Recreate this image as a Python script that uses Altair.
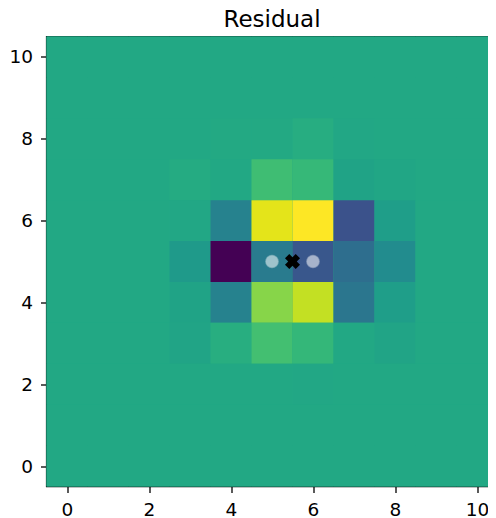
import altair as alt
import pandas as pd

# Residual image values, rows listed from y=10 (top) down to y=0 (bottom), columns x=0..10
row_y = [10, 9, 8, 7, 6, 5, 4, 3, 2, 1, 0]
residual_rows = [
    [0, 0, 0, 0, 0, 0, 0, 0, 0, 0, 0],
    [0, 0, 0, 0, 0, 0, 0, 0, 0, 0, 0],
    [0, 0, 0, 0, 0.5, 0.5, 2, -0.5, 0, 0, 0],
    [0, 0, 0, 1.2, 0, 9, 7, -2, -1, 0, 0],
    [0, 0, 0, -0.5, -16, 36, 40, -35, -4, 0, 0],
    [0, 0, 0, -6, -60, -19, -33, -24, -12, 0, 0],
    [0, 0, 0, -2, -16, 22, 31, -21, -4, 0, 0],
    [0, 0, 0, -1.5, 2.5, 10, 6.5, 0, -1.5, 0, 0],
    [0, 0, 0, 0, 0, 0, -0.5, 0, 0, 0, 0],
    [0, 0, 0, 0, 0, 0, 0, 0, 0, 0, 0],
    [0, 0, 0, 0, 0, 0, 0, 0, 0, 0, 0],
]
col_x = list(range(11))

# overlay markers
source_x = [5, 6]
source_y = [5, 5]
center_x = [5.5]
center_y = [5]

tick_vals = [0, 2, 4, 6, 8, 10]

records = []
for yy, row in zip(row_y, residual_rows):
    for xx, v in zip(col_x, row):
        records.append({"x0": xx - 0.5, "x1": xx + 0.5, "y0": yy - 0.5, "y1": yy + 0.5, "v": v})
df = pd.DataFrame(records)
vmin = float(df["v"].min())
vmax = float(df["v"].max())

# image extent (background layer under the cells so no seams show)
bg = pd.DataFrame({
    "x0": [df["x0"].min()], "x1": [df["x1"].max()],
    "y0": [df["y0"].min()], "y1": [df["y1"].max()],
    "v": [float(df["v"].median())],
})

xs = alt.Scale(domain=[-0.5, 10.5], nice=False, zero=False)
ys = alt.Scale(domain=[-0.5, 10.5], nice=False, zero=False)
cs = alt.Scale(scheme="viridis", domain=[vmin, vmax])

base_enc = dict(
    x=alt.X("x0:Q", scale=xs, axis=alt.Axis(values=tick_vals, title=None)),
    x2="x1:Q",
    y=alt.Y("y0:Q", scale=ys, axis=alt.Axis(values=tick_vals, title=None)),
    y2="y1:Q",
    fill=alt.Fill("v:Q", scale=cs, legend=None),
)

under = alt.Chart(bg).mark_rect(strokeWidth=0).encode(**base_enc)
heat = alt.Chart(df).mark_rect(strokeWidth=0).encode(**base_enc)

pts = alt.Chart(pd.DataFrame({"x": source_x, "y": source_y})).mark_point(
    filled=True, shape="circle", size=150, color="white", opacity=0.55,
    stroke="white", strokeWidth=1.5, strokeOpacity=0.6,
).encode(x=alt.X("x:Q", scale=xs), y=alt.Y("y:Q", scale=ys))

cen = alt.Chart(pd.DataFrame({"x": center_x, "y": center_y})).mark_point(
    filled=True, shape="cross", size=230, color="black", opacity=1, angle=45,
).encode(x=alt.X("x:Q", scale=xs), y=alt.Y("y:Q", scale=ys))

chart = (
    alt.layer(under, heat, pts, cen)
    .properties(
        width=451,
        height=450,
        autosize=alt.AutoSizeParams(type="none"),
        padding={"left": 38.5, "top": 28.5, "right": -9.5, "bottom": 40},
        background="white",
        title=alt.TitleParams(
            "Residual", font="DejaVu Sans", fontSize=23, fontWeight="normal",
            color="black", anchor="middle", offset=5,
        ),
    )
    .configure_view(stroke="black", strokeWidth=1.4)
    .configure_axis(
        labelFont="DejaVu Sans", labelFontSize=18.5, labelColor="black",
        tickColor="black", tickSize=6, tickWidth=1.3, domain=False, grid=False,
        labelPadding=8,
    )
)

chart.save("out.html", embed_options={"renderer": "svg", "actions": False})
